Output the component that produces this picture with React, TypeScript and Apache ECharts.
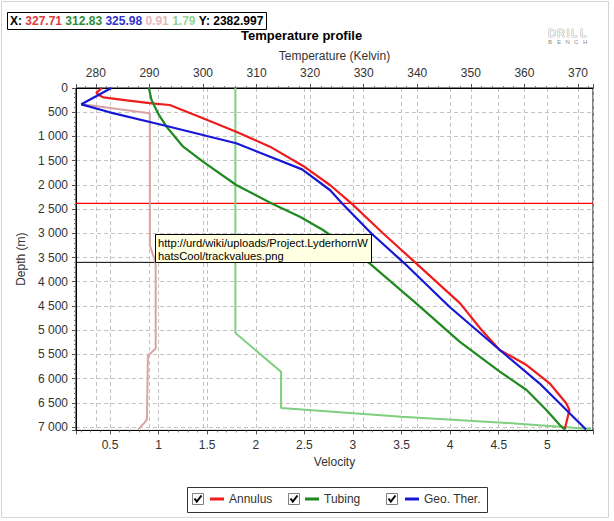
import React, { useEffect, useRef } from "react";
import * as echarts from "echarts";

// ---- Data ----
// Temperature series (Kelvin) vs depth (m)
const annulusTemp = [281.1, 280.1, 280.5, 281.4, 285.8, 290.4, 293.8, 300.0, 306.2, 312.5, 318.7, 323.7, 327.71, 333.6, 339.8, 348.0, 352.0, 355.4, 360.4, 364.7, 367.8, 368.4, 367.8, 367.5];
const annulusDepth = [0, 100, 145, 192, 255, 316, 351, 626, 902, 1211, 1610, 2003, 2383, 3000, 3620, 4446, 4997, 5410, 5720, 6098, 6511, 6649, 6924, 7050];

const tubingTemp = [289.9, 290.4, 291.6, 293.2, 296.3, 300.0, 306.2, 312.83, 318.1, 322.4, 331.1, 339.8, 347.9, 355.4, 360.4, 364.1, 366.6, 367.5];
const tubingDepth = [0, 248, 523, 799, 1212, 1522, 2003, 2383, 2657, 2932, 3620, 4446, 5238, 5857, 6236, 6649, 6958, 7050];

const geoTemp = [282.9, 277.3, 282.6, 293.2, 306.2, 318.5, 323.7, 325.98, 331.4, 337.6, 346.0, 355.4, 362.8, 371.5];
const geoDepth = [0, 337, 502, 785, 1142, 1680, 2106, 2383, 3000, 3620, 4516, 5410, 6098, 7050];

// Velocity series vs depth (m)
const annulusVel = [0.21, 0.91, 0.91, 0.96, 0.97, 0.97, 0.89, 0.88, 0.86, 0.79];
const annulusVelDepth = [337, 522, 3250, 3550, 3650, 5380, 5530, 6840, 6900, 7050];

const tubingVel = [1.79, 1.79, 2.26, 2.26, 3.5, 4.5, 5.45];
const tubingVelDepth = [0, 5060, 5860, 6608, 6790, 6905, 7040];

// Cursor read-out
const cursorDepth = 2382.997;
const cursorValues = ["327.71", "312.83", "325.98", "0.91", "1.79"];
const markerDepth = 3600;

// Axis ranges
const tempMin = 276.3;
const tempMax = 372.8;
const velMin = 0.15;
const velMax = 5.47;
const depthMin = 0;
const depthMax = 7070;
const depthStep = 500;

const legendNames = ["Annulus", "Tubing", "Geo. Ther."];

const C = {
  red: "#ee1c1c",
  green: "#1f8a1f",
  blue: "#1717d6",
  pink: "#d9a3a3",
  lgreen: "#7fcf7f",
};

const FONT = "Liberation Sans, Arial, sans-serif";

const zip = (xs: number[], ys: number[]) => xs.map((x, i) => [x, ys[i]]);
const fmtDepth = (v: number) =>
  String(Math.round(v)).replace(/\B(?=(\d{3})+(?!\d))/g, " ");

export default function App() {
  const ref = useRef<HTMLDivElement>(null);

  useEffect(() => {
    if (!ref.current) return;
    const chart = echarts.init(ref.current, undefined, { renderer: "svg" });

    const gridLine = { show: true, lineStyle: { color: "#c4c4c4", type: [4, 3] as any, width: 1 } };
    const axisLabel = { color: "#333", fontSize: 12, fontFamily: FONT };

    const checkbox = (x: number) => ({
      type: "group",
      children: [
        { type: "rect", shape: { x: x + 0.5, y: 493.5, width: 11, height: 11 }, style: { fill: "#fff", stroke: "#808080", lineWidth: 1 } },
        { type: "polyline", shape: { points: [[x + 2.5, 498.5], [x + 4.8, 501.5], [x + 9.5, 495.5]] }, style: { stroke: "#000", lineWidth: 2, fill: "none" } },
      ],
    });

    const logoText = (ch: string, x: number, y: number, size: number, outline: boolean) => ({
      type: "text",
      x,
      y,
      style: outline
        ? { text: ch, fontSize: size, fontFamily: FONT, fill: "#fff", stroke: "#8c8c8c", lineWidth: 0.7, verticalAlign: "middle" }
        : { text: ch, fontSize: size, fontFamily: FONT, fill: "#8c8c8c", verticalAlign: "middle" },
    });

    const legendItem = (name: string, left: number) => ({
      data: [name],
      left,
      top: 493,
      padding: 0,
      itemWidth: 14,
      itemHeight: 3,
      icon: "rect",
      selectedMode: false,
      textStyle: { color: "#333", fontSize: 12, fontFamily: FONT },
    });

    const hSeries = (name: string, depth: number, color: string, width: number) => ({
      name,
      type: "line",
      xAxisIndex: 1,
      data: [[velMin, depth], [velMax, depth]],
      symbol: "none",
      silent: true,
      lineStyle: { color, width },
      itemStyle: { color },
      z: 1,
    });

    const option: any = {
      animation: false,
      backgroundColor: "#fff",
      title: {
        text: "Temperature profile",
        left: 241,
        top: 29,
        padding: 0,
        textStyle: { fontSize: 13, fontWeight: "bold", color: "#000", fontFamily: FONT },
      },
      legend: [
        legendItem(legendNames[0], 210),
        legendItem(legendNames[1], 305),
        legendItem(legendNames[2], 405),
      ],
      grid: {
        left: 76,
        top: 88,
        right: 21,
        bottom: 90.6,
        show: true,
        borderColor: "#000",
        borderWidth: 1,
        backgroundColor: "#fff",
      },
      xAxis: [
        {
          type: "value",
          position: "top",
          min: tempMin,
          max: tempMax,
          splitNumber: 10,
          name: "Temperature (Kelvin)",
          nameLocation: "middle",
          nameGap: 23,
          nameTextStyle: { color: "#333", fontSize: 12, fontFamily: FONT },
          axisLine: { show: true, lineStyle: { color: "#000" } },
          axisTick: { show: true, length: 4, lineStyle: { color: "#555" } },
          minorTick: { show: true, splitNumber: 5, length: 2, lineStyle: { color: "#777" } },
          axisLabel: { ...axisLabel, margin: 9, showMinLabel: false, showMaxLabel: false },
          splitLine: gridLine,
        },
        {
          type: "value",
          position: "bottom",
          min: velMin,
          max: velMax,
          splitNumber: 10,
          name: "Velocity",
          nameLocation: "middle",
          nameGap: 26,
          nameTextStyle: { color: "#333", fontSize: 12, fontFamily: FONT },
          axisLine: { show: true, lineStyle: { color: "#000" } },
          axisTick: { show: true, length: 4, lineStyle: { color: "#555" } },
          minorTick: { show: true, splitNumber: 5, length: 2, lineStyle: { color: "#777" } },
          axisLabel: { ...axisLabel, margin: 9, showMinLabel: false, showMaxLabel: false },
          splitLine: gridLine,
        },
      ],
      yAxis: {
        type: "value",
        inverse: true,
        min: depthMin,
        max: depthMax,
        interval: depthStep,
        name: "Depth (m)",
        nameLocation: "middle",
        nameGap: 35,
        nameTextStyle: { color: "#333", fontSize: 12, fontFamily: FONT },
        axisLine: { show: true, lineStyle: { color: "#000" } },
        axisTick: { show: true, length: 4, lineStyle: { color: "#555" } },
        minorTick: { show: true, splitNumber: 5, length: 2, lineStyle: { color: "#777" } },
        axisLabel: { ...axisLabel, margin: 8, showMaxLabel: false, formatter: (v: number) => fmtDepth(v) },
        splitLine: gridLine,
      },
      series: [
        hSeries("Cursor", cursorDepth, "#ff0000", 1.4),
        hSeries("Marker", markerDepth, "#000000", 1),
        {
          name: "Annulus velocity",
          type: "line",
          xAxisIndex: 1,
          data: zip(annulusVel, annulusVelDepth),
          symbol: "none",
          lineStyle: { color: C.pink, width: 2 },
          itemStyle: { color: C.pink },
          silent: true,
        },
        {
          name: "Tubing velocity",
          type: "line",
          xAxisIndex: 1,
          data: zip(tubingVel, tubingVelDepth),
          symbol: "none",
          lineStyle: { color: C.lgreen, width: 2 },
          itemStyle: { color: C.lgreen },
          silent: true,
        },
        {
          name: "Annulus",
          type: "line",
          xAxisIndex: 0,
          data: zip(annulusTemp, annulusDepth),
          symbol: "none",
          lineStyle: { color: C.red, width: 2.2 },
          itemStyle: { color: C.red },
        },
        {
          name: "Tubing",
          type: "line",
          xAxisIndex: 0,
          data: zip(tubingTemp, tubingDepth),
          symbol: "none",
          lineStyle: { color: C.green, width: 2.2 },
          itemStyle: { color: C.green },
        },
        {
          name: "Geo. Ther.",
          type: "line",
          xAxisIndex: 0,
          data: zip(geoTemp, geoDepth),
          symbol: "none",
          lineStyle: { color: C.blue, width: 2.2 },
          itemStyle: { color: C.blue },
        },
      ],
      graphic: [
        // outer frame
        { type: "rect", z: 0, shape: { x: 1.5, y: 1.5, width: 607, height: 516 }, style: { fill: "none", stroke: "#d4d4d4", lineWidth: 1 } },
        // cursor read-out box
        { type: "rect", z: 100, shape: { x: 7.5, y: 12.5, width: 259, height: 17 }, style: { fill: "#fff", stroke: "#000", lineWidth: 1 } },
        {
          type: "text",
          z: 101,
          x: 10,
          y: 21,
          style: {
            text: `{k|X:} {r|${cursorValues[0]}} {g|${cursorValues[1]}} {b|${cursorValues[2]}} {p|${cursorValues[3]}} {l|${cursorValues[4]}} {k|Y: ${cursorDepth.toFixed(3)}}`,
            verticalAlign: "middle",
            fontSize: 12,
            fontWeight: "bold",
            fontFamily: FONT,
            rich: {
              k: { fill: "#000", fontSize: 12, fontWeight: "bold", fontFamily: FONT },
              r: { fill: "#e03a3a", fontSize: 12, fontWeight: "bold", fontFamily: FONT },
              g: { fill: "#2e8b3a", fontSize: 12, fontWeight: "bold", fontFamily: FONT },
              b: { fill: "#3333c8", fontSize: 12, fontWeight: "bold", fontFamily: FONT },
              p: { fill: "#e6b8b8", fontSize: 12, fontWeight: "bold", fontFamily: FONT },
              l: { fill: "#93d493", fontSize: 12, fontWeight: "bold", fontFamily: FONT },
            },
          },
        },
        // logo
        logoText("D", 548, 32.5, 11, true),
        logoText("R", 557, 32.5, 11, true),
        logoText("I", 566.5, 32.5, 11, true),
        logoText("L", 571, 32.5, 11, true),
        logoText("L", 580, 32.5, 11, true),
        logoText("B", 548, 41.5, 6, false),
        logoText("E", 557, 41.5, 6, false),
        logoText("N", 565.5, 41.5, 6, false),
        logoText("C", 574, 41.5, 6, false),
        logoText("H", 583, 41.5, 6, false),
        // hover note
        { type: "rect", z: 100, shape: { x: 155.5, y: 234.5, width: 216, height: 28 }, style: { fill: "#ffffe1", stroke: "#000", lineWidth: 1 } },
        { type: "text", z: 101, x: 158, y: 243, style: { text: "http://urd/wiki/uploads/Project.LyderhornW", fontSize: 11.2, fontFamily: FONT, fill: "#000", verticalAlign: "middle" } },
        { type: "text", z: 101, x: 158, y: 256, style: { text: "hatsCool/trackvalues.png", fontSize: 11.2, fontFamily: FONT, fill: "#000", verticalAlign: "middle" } },
        // legend frame and check boxes
        { type: "rect", z: 0, shape: { x: 187.5, y: 487.5, width: 300, height: 25 }, style: { fill: "#fff", stroke: "#333", lineWidth: 1 } },
        checkbox(192),
        checkbox(288),
        checkbox(386),
      ],
    };

    chart.setOption(option);
    return () => chart.dispose();
  }, []);

  return (
    <div
      ref={ref}
      style={{ position: "fixed", left: 0, top: 0, width: 614, height: 521, background: "#fff" }}
    />
  );
}
